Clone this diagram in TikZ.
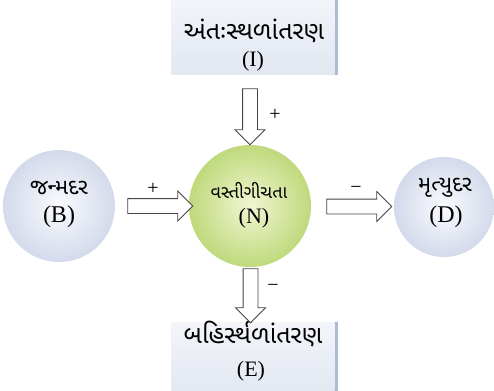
\documentclass[tikz,border=0pt]{standalone}
\usepackage{fontspec}
\setmainfont{Liberation Serif}
\newfontfamily\guj[Script=Gujarati]{Noto Sans Gujarati UI}
\usetikzlibrary{shapes.arrows}
\definecolor{boxtop}{HTML}{F3F5FA}
\definecolor{boxbot}{HTML}{E2E7F1}
\definecolor{boxshadow}{HTML}{AEBBD6}
\definecolor{bluein}{HTML}{FAFBFD}
\definecolor{blueout}{HTML}{D3DAEB}
\definecolor{greenin}{HTML}{F2F6D2}
\definecolor{greenout}{HTML}{BFD97C}
\definecolor{arrowline}{HTML}{464646}
\tikzset{
  boxst/.style={rectangle, inner sep=0pt, top color=boxtop, bottom color=boxbot, draw=none},
  shadowst/.style={rectangle, inner sep=0pt, fill=boxshadow, draw=none},
  bluecirc/.style={circle, inner sep=0pt, shading=radial, inner color=bluein, outer color=blueout},
  greencirc/.style={circle, inner sep=0pt, shading=radial, inner color=greenin, outer color=greenout},
  gbox/.style={font=\guj\fontsize{25}{28}\selectfont, inner sep=0pt},
  gcirc/.style={font=\guj\fontsize{22}{24}\selectfont, inner sep=0pt},
  gmid/.style={font=\guj\fontsize{18}{20}\selectfont, inner sep=0pt},
  lbig/.style={font=\fontsize{24}{26}\selectfont, inner sep=0pt},
  lmid/.style={font=\fontsize{22}{24}\selectfont, inner sep=0pt},
  signst/.style={font=\fontsize{20}{22}\selectfont, inner sep=0pt},
  hollowarrow/.style={single arrow, draw=arrowline, fill=white, line width=0.8pt,
    inner xsep=0pt, inner ysep=7pt, single arrow head extend=7.5pt}
}
\begin{document}
\begin{tikzpicture}[x=1pt,y=-1pt]
\useasboundingbox[fill=white] (0,0) rectangle (494,390);
% top box
\node[shadowst, minimum width=163pt, minimum height=80pt] (Ish) at (256,35) {};
\node[boxst, minimum width=163pt, minimum height=80pt] (I) at (253,35) {};
\node[gbox] (It) at (254,31) {અંતઃસ્થળાંતરણ};
\node[lmid] (Il) at (253,61) {(I)};
% bottom box
\node[shadowst, minimum width=163pt, minimum height=72pt] (Esh) at (256,358) {};
\node[boxst, minimum width=163pt, minimum height=72pt] (E) at (253,358) {};
\node[gbox] (Et) at (253,334) {બહિર્સ્થળાંતરણ};
\node[lmid] (El) at (251,371) {(E)};
% circles
\node[bluecirc, minimum size=112pt] (B) at (59,206) {};
\node[gcirc] (Bt) at (59,188) {જન્મદર};
\node[lbig] (Bl) at (59,217) {(B)};
\node[greencirc, minimum size=122pt] (N) at (250,206) {};
\node[gmid] (Nt) at (249,190) {વસ્તીગીચતા};
\node[lmid] (Nl) at (254,218) {(N)};
\node[bluecirc, minimum size=100pt] (D) at (444,207) {};
\node[gcirc] (Dt) at (445,188) {મૃત્યુદર};
\node[lbig] (Dl) at (446,217) {(D)};
% arrows
\node[hollowarrow, minimum height=56pt, rotate=-90] (a1) at (250,113) {};
\node[hollowarrow, minimum height=65pt] (a2) at (156.5,206) {};
\node[hollowarrow, minimum height=65pt] (a3) at (355.5,206.5) {};
\node[hollowarrow, minimum height=54pt, rotate=-90] (a4) at (250.5,292) {};
% signs
\node[signst] (s1) at (275,115) {+};
\node[signst] (s2) at (153,189) {+};
\node[signst] (s3) at (356,190) {\textminus};
\node[signst] (s4) at (273,288) {\textminus};
\end{tikzpicture}
\end{document}
